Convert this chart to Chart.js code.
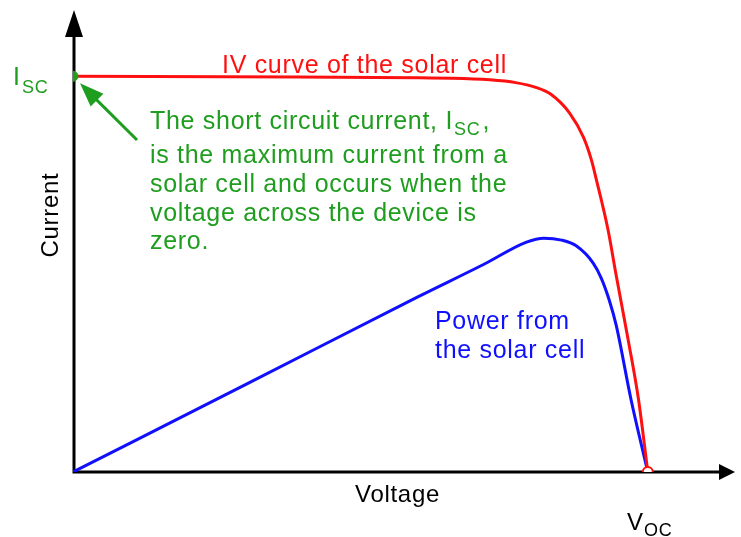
<!DOCTYPE html>
<html>
<head>
<meta charset="utf-8">
<script src="https://cdn.jsdelivr.net/npm/chart.js@4"></script>
<style>
  body { margin: 0; background: #fff; }
  #wrap { width: 741px; height: 537px; }
</style>
</head>
<body>
<div id="wrap"><canvas id="c"></canvas></div>
<script>
// IV curve (voltage as % of Voc, current as % of Isc)
const ivVoltage = [0, 39.2, 66.0, 72.5, 77.0, 80.5, 83.2, 86.4, 88.8, 90.2, 91.0, 93.1, 94.5, 96.6, 98.4, 100];
const ivCurrent = [100, 99.8, 99.5, 99.1, 98.4, 97.2, 95.4, 90.7, 84.6, 78.8, 74.2, 61.1, 49.7, 33.3, 18.2, 0];

// power curve, same axes
const powerVoltage = [0, 30.6, 59.9, 71.5, 78.9, 81.9, 85.0, 87.6, 90.5, 91.9, 93.3, 94.5, 97.1, 100];
const powerValues = [0, 22.5, 44.2, 52.5, 58.1, 59.1, 58.6, 57.1, 52.8, 49.0, 43.4, 37.1, 18.2, 0];

const iscPoint = [{ x: 0, y: 100 }];
const vocPoint = [{ x: 100, y: 0 }];

const GREEN = '#1f9d1f';
const RED = '#ff1010';
const BLUE = '#1010ff';
const FONT = '"Liberation Sans", Arial, sans-serif';

function toXY(xs, ys) {
  return xs.map((x, i) => ({ x: x, y: ys[i] }));
}

// axes with arrow heads
const axesPlugin = {
  id: 'axes',
  beforeDatasetsDraw(chart) {
    const { ctx, chartArea } = chart;
    const x0 = chart.scales.x.getPixelForValue(0) + 1;
    const y0 = chart.scales.y.getPixelForValue(0);
    ctx.save();
    ctx.strokeStyle = '#000';
    ctx.fillStyle = '#000';
    ctx.lineWidth = 3;
    ctx.beginPath();
    ctx.moveTo(x0, y0 + 1.5);
    ctx.lineTo(x0, chartArea.top + 20);
    ctx.moveTo(x0 - 1.5, y0);
    ctx.lineTo(chartArea.right - 10, y0);
    ctx.stroke();
    // y arrow
    ctx.beginPath();
    ctx.moveTo(x0, chartArea.top + 1);
    ctx.lineTo(x0 - 9, chartArea.top + 28);
    ctx.lineTo(x0 + 9, chartArea.top + 28);
    ctx.closePath();
    ctx.fill();
    // x arrow
    ctx.beginPath();
    ctx.moveTo(chartArea.right + 1, y0);
    ctx.lineTo(chartArea.right - 15, y0 - 8);
    ctx.lineTo(chartArea.right - 15, y0 + 8);
    ctx.closePath();
    ctx.fill();
    ctx.restore();
  }
};

// labels and the green pointer
const labelsPlugin = {
  id: 'labels',
  afterDatasetsDraw(chart) {
    const { ctx } = chart;
    const sx = chart.scales.x, sy = chart.scales.y;
    ctx.save();
    ctx.textBaseline = 'alphabetic';
    ctx.textAlign = 'left';
    ctx.letterSpacing = '0.7px';

    // green arrow pointing at Isc
    const tipX = sx.getPixelForValue(0) + 7, tipY = sy.getPixelForValue(100) + 7;
    const tailX = 137, tailY = 140;
    const ang = Math.atan2(tipY - tailY, tipX - tailX);
    ctx.strokeStyle = GREEN;
    ctx.fillStyle = GREEN;
    ctx.lineWidth = 3;
    ctx.beginPath();
    ctx.moveTo(tailX, tailY);
    ctx.lineTo(tipX - 15 * Math.cos(ang), tipY - 15 * Math.sin(ang));
    ctx.stroke();
    ctx.beginPath();
    ctx.moveTo(tipX, tipY);
    ctx.lineTo(tipX - 24 * Math.cos(ang) + 9 * Math.sin(ang), tipY - 24 * Math.sin(ang) - 9 * Math.cos(ang));
    ctx.lineTo(tipX - 24 * Math.cos(ang) - 9 * Math.sin(ang), tipY - 24 * Math.sin(ang) + 9 * Math.cos(ang));
    ctx.closePath();
    ctx.fill();

    // Isc label
    ctx.font = '25px ' + FONT;
    ctx.fillText('I', 13, 85);
    ctx.font = '18px ' + FONT;
    ctx.fillText('SC', 22, 93);

    // green note
    const x = 150;
    ctx.font = '25px ' + FONT;
    const l1 = 'The short circuit current, I';
    ctx.fillText(l1, x, 129);
    const w = ctx.measureText(l1).width;
    ctx.font = '18px ' + FONT;
    ctx.fillText('SC', x + w + 1, 135);
    const w2 = ctx.measureText('SC').width;
    ctx.font = '25px ' + FONT;
    ctx.fillText(',', x + w + w2 + 3, 129);
    ctx.fillText('is the maximum current from a', x, 163);
    ctx.fillText('solar cell and occurs when the', x, 192);
    ctx.fillText('voltage across the device is', x, 221);
    ctx.fillText('zero.', x, 249);

    // red label
    ctx.fillStyle = RED;
    ctx.fillText('IV curve of the solar cell', 222, 73);

    // blue label
    ctx.fillStyle = BLUE;
    ctx.fillText('Power from', 435, 329);
    ctx.fillText('the solar cell', 435, 358);

    // axis titles
    ctx.fillStyle = '#000';
    ctx.font = '24px ' + FONT;
    ctx.fillText('Voltage', 355, 502);
    ctx.fillText('V', 627, 530);
    ctx.font = '18px ' + FONT;
    ctx.fillText('OC', 644, 536);
    ctx.translate(58, 215);
    ctx.rotate(-Math.PI / 2);
    ctx.textAlign = 'center';
    ctx.font = '24px ' + FONT;
    ctx.fillText('Current', 0, 0);
    ctx.restore();
  }
};

new Chart(document.getElementById('c'), {
  type: 'scatter',
  data: {
    datasets: [
      {
        label: 'IV curve',
        data: toXY(ivVoltage, ivCurrent),
        showLine: true,
        borderColor: RED,
        borderWidth: 3,
        pointRadius: 0,
        cubicInterpolationMode: 'monotone',
        order: 2
      },
      {
        label: 'Power',
        data: toXY(powerVoltage, powerValues),
        showLine: true,
        borderColor: BLUE,
        borderWidth: 3,
        pointRadius: 0,
        cubicInterpolationMode: 'monotone',
        order: 3
      },
      {
        label: 'Isc',
        data: iscPoint,
        pointRadius: 5,
        pointBackgroundColor: GREEN,
        pointBorderColor: GREEN,
        order: 1
      },
      {
        label: 'Voc',
        data: vocPoint,
        pointRadius: 5,
        pointBorderWidth: 2,
        pointBackgroundColor: '#fff',
        pointBorderColor: RED,
        order: 0
      }
    ]
  },
  options: {
    responsive: true,
    maintainAspectRatio: false,
    animation: false,
    layout: { padding: { left: 73, right: 2, top: 9, bottom: 65 } },
    plugins: {
      legend: { display: false },
      tooltip: { enabled: false }
    },
    scales: {
      x: { type: 'linear', min: 0, max: 115, display: false },
      y: { type: 'linear', min: 0, max: 117, display: false }
    }
  },
  plugins: [axesPlugin, labelsPlugin]
});
</script>
</body>
</html>
